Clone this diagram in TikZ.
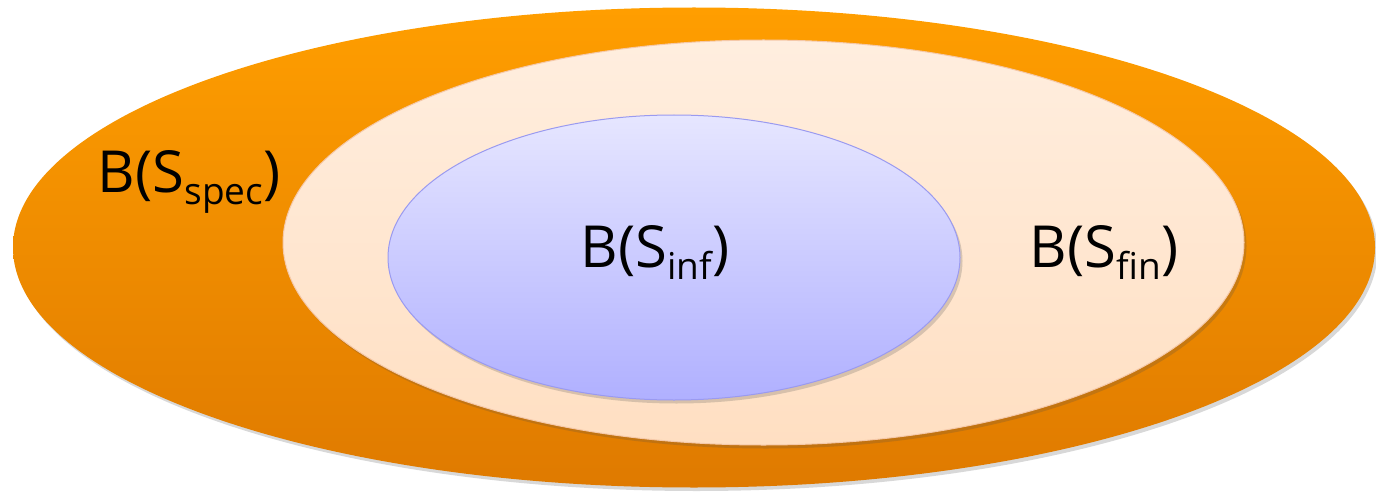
\documentclass[tikz,border=0pt]{standalone}
\usepackage{fontspec}
\setmainfont{Open Sans}
\usetikzlibrary{shadows,shapes.geometric}
\definecolor{orTop}{HTML}{FF9E00}
\definecolor{orBot}{HTML}{DF7A00}
\definecolor{crTop}{HTML}{FFEEDF}
\definecolor{crBot}{HTML}{FFDFC2}
\definecolor{crEdge}{HTML}{F5C8A8}
\definecolor{blTop}{HTML}{E6E6FF}
\definecolor{blBot}{HTML}{B0B0FF}
\definecolor{blEdge}{HTML}{9A9AF0}
\newcommand{\setlab}[1]{B(S\raisebox{-12pt}{\fontsize{37}{40}\selectfont #1})}
\tikzset{
  blob/.style={ellipse, inner sep=0pt, outer sep=0pt,
    drop shadow={shadow xshift=2.5pt, shadow yshift=-3.5pt, opacity=0.22, fill=black!70}},
  lab/.style={anchor=base, inner sep=0pt, font=\fontsize{58}{64}\selectfont}
}
\begin{document}
\begin{tikzpicture}[x=1pt,y=1pt]
\useasboundingbox (0,0) rectangle (1376,491);
\node[blob, minimum width=1362pt, minimum height=480pt,
  top color=orTop, bottom color=orBot, draw=none] (outer) at (694,243.5) {};
\node[blob, minimum width=961pt, minimum height=405pt,
  top color=crTop, bottom color=crBot, draw=crEdge, line width=1pt] (mid) at (763.5,248.5) {};
\node[blob, minimum width=572pt, minimum height=285pt,
  top color=blTop, bottom color=blBot, draw=blEdge, line width=1pt] (inner) at (674,233.5) {};
\node[lab] (spec) at (189,299) {\setlab{spec}};
\node[lab] (inf) at (655,224) {\setlab{inf}};
\node[lab] (fin) at (1104,224) {\setlab{fin}};
\end{tikzpicture}
\end{document}
